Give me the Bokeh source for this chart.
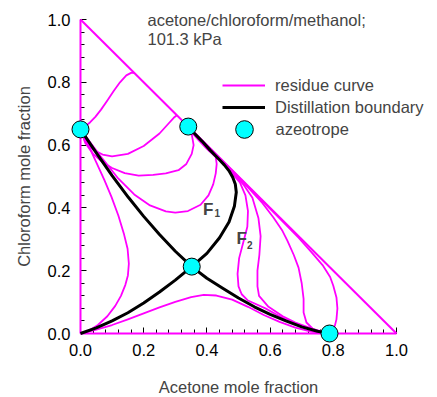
import math

from bokeh.plotting import figure
from bokeh.models import (Range1d, LinearAxis, FixedTicker, PrintfTickFormatter,
                          Label, Legend, LegendItem, ColumnDataSource)
from bokeh.embed import file_html
from bokeh.resources import INLINE

FONT = "Liberation Sans"
MAGENTA = "#ff00ff"
CYAN = "#00ffff"

# ---- composition data (x = acetone mole fraction, y = chloroform mole fraction) ----
# binary edges of the composition triangle (these are residue curves too)
edge_x = [[0.0, 0.0], [0.0, 1.0], [0.0, 1.0]]
edge_y = [[0.0, 1.0], [0.0, 0.0], [1.0, 0.0]]

# residue curves inside the triangle
res_a_x = [0.0, 0.015, 0.03, 0.047, 0.065, 0.085, 0.105, 0.125, 0.145, 0.16, 0.17]
res_a_y = [0.65, 0.66, 0.672, 0.69, 0.713, 0.742, 0.772, 0.80, 0.822, 0.83, 0.83]

res_c_x = [0.0, 0.015, 0.04, 0.07, 0.10, 0.15, 0.20, 0.25, 0.278, 0.295, 0.305]
res_c_y = [0.65, 0.612, 0.585, 0.57, 0.564, 0.572, 0.597, 0.637, 0.668, 0.687, 0.695]

res_d_x = [0.0, 0.015, 0.04, 0.07, 0.10, 0.14, 0.184, 0.23, 0.27, 0.31, 0.335, 0.352, 0.358,
           0.352, 0.341]
res_d_y = [0.65, 0.607, 0.572, 0.545, 0.527, 0.511, 0.503, 0.505, 0.51, 0.52, 0.54, 0.572, 0.60,
           0.635, 0.659]

res_e_x = [0.0, 0.03, 0.07, 0.12, 0.17, 0.22, 0.27, 0.30, 0.34, 0.38, 0.405, 0.42, 0.428, 0.431,
           0.428, 0.40, 0.375, 0.355, 0.341]
res_e_y = [0.65, 0.61, 0.556, 0.493, 0.443, 0.408, 0.389, 0.385, 0.39, 0.41, 0.44, 0.475, 0.51, 0.54,
           0.562, 0.588, 0.614, 0.637, 0.659]

res_f_x = [0.0, 0.025, 0.05, 0.075, 0.098, 0.12, 0.138, 0.149, 0.153, 0.15, 0.142, 0.128, 0.11,
           0.085, 0.055, 0.025, 0.0]
res_f_y = [0.65, 0.60, 0.545, 0.49, 0.435, 0.375, 0.315, 0.27, 0.222, 0.185, 0.155, 0.12, 0.088,
           0.055, 0.027, 0.008, 0.0]

res_g_x = [0.0, 0.05, 0.10, 0.15, 0.20, 0.25, 0.30, 0.35, 0.39, 0.43, 0.48, 0.53, 0.58, 0.63,
           0.68, 0.73, 0.76, 0.788]
res_g_y = [0.0, 0.012, 0.027, 0.045, 0.064, 0.083, 0.101, 0.116, 0.123, 0.121, 0.108, 0.085,
           0.059, 0.037, 0.019, 0.006, 0.002, 0.0]

res_h1_x = [0.341, 0.40, 0.45, 0.48, 0.505, 0.522, 0.53, 0.528, 0.515, 0.502, 0.497, 0.50, 0.51,
            0.53, 0.585, 0.63, 0.671, 0.72, 0.76, 0.788]
res_h1_y = [0.659, 0.597, 0.545, 0.51, 0.48, 0.44, 0.39, 0.34, 0.29, 0.24, 0.19, 0.15, 0.125,
            0.105, 0.08, 0.055, 0.035, 0.016, 0.005, 0.0]

res_h2_x = [0.341, 0.40, 0.45, 0.48, 0.515, 0.544, 0.563, 0.57, 0.566, 0.56, 0.56, 0.565, 0.595,
            0.64, 0.68, 0.737, 0.788]
res_h2_y = [0.659, 0.597, 0.547, 0.515, 0.475, 0.432, 0.368, 0.31, 0.25, 0.20, 0.15, 0.12, 0.085,
            0.055, 0.035, 0.014, 0.0]

res_h3_x = [0.341, 0.40, 0.45, 0.49, 0.53, 0.576, 0.61, 0.639, 0.655, 0.675, 0.69, 0.70, 0.706,
            0.706, 0.715, 0.734, 0.76, 0.788]
res_h3_y = [0.659, 0.598, 0.548, 0.508, 0.465, 0.415, 0.37, 0.327, 0.295, 0.25, 0.21, 0.16, 0.11,
            0.067, 0.035, 0.016, 0.004, 0.0]

res_h4_x = [0.341, 0.45, 0.55, 0.627, 0.69, 0.73, 0.766, 0.79, 0.80, 0.81, 0.813, 0.81, 0.805,
            0.795, 0.788]
res_h4_y = [0.659, 0.549, 0.448, 0.37, 0.305, 0.26, 0.218, 0.18, 0.152, 0.115, 0.08, 0.045, 0.025,
            0.008, 0.0]

# distillation boundaries
bd1_x = [0.0, 0.05, 0.10, 0.152, 0.20, 0.25, 0.30, 0.352, 0.40, 0.45, 0.50, 0.55, 0.60, 0.65,
         0.70, 0.75, 0.788]
bd1_y = [0.65, 0.575, 0.503, 0.433, 0.373, 0.315, 0.262, 0.213, 0.176, 0.144, 0.113, 0.085, 0.061,
         0.04, 0.021, 0.007, 0.0]

bd2_x = [0.0, 0.05, 0.10, 0.15, 0.20, 0.25, 0.30, 0.352, 0.40, 0.44, 0.47, 0.487, 0.493, 0.49,
         0.482, 0.47, 0.455, 0.435, 0.41, 0.385, 0.36, 0.341]
bd2_y = [0.0, 0.018, 0.04, 0.066, 0.097, 0.132, 0.17, 0.213, 0.255, 0.305, 0.355, 0.405, 0.45, 0.475,
         0.497, 0.518, 0.537, 0.558, 0.584, 0.612, 0.638, 0.659]

# azeotropes
az_x = [0.0, 0.341, 0.352, 0.788]
az_y = [0.65, 0.659, 0.213, 0.0]

major_ticks = [0.0, 0.2, 0.4, 0.6, 0.8, 1.0]
minor_ticks = [round(0.04 * i, 2) for i in range(26)]

# ---- figure: the frame spans the whole canvas, axes sit at the data origin ----
p = figure(width=437, height=397, output_backend="svg", toolbar_location=None,
           x_range=Range1d(-0.25316, 1.12975), y_range=Range1d(-0.20382, 1.06051),
           x_axis_type=None, y_axis_type=None,
           min_border_left=0, min_border_right=0, min_border_top=0, min_border_bottom=0)
p.outline_line_color = None
p.background_fill_color = "white"
p.border_fill_color = "white"


def style_axis(ax):
    ax.ticker = FixedTicker(ticks=major_ticks, minor_ticks=minor_ticks)
    ax.formatter = PrintfTickFormatter(format="%.1f")
    ax.axis_line_color = "black"
    ax.axis_line_width = 1
    ax.major_tick_in = 6
    ax.major_tick_out = 0
    ax.minor_tick_in = 4
    ax.minor_tick_out = 0
    ax.major_tick_line_color = "black"
    ax.minor_tick_line_color = "black"
    ax.major_label_text_font = FONT
    ax.major_label_text_font_size = "16.5px"
    ax.major_label_text_color = "black"
    ax.major_label_standoff = 10
    ax.level = "underlay"


xaxis = LinearAxis(fixed_location=0, bounds=(0, 1))
style_axis(xaxis)
p.add_layout(xaxis, "below")
yaxis = LinearAxis(fixed_location=0, bounds=(0, 1))
style_axis(yaxis)
p.add_layout(yaxis, "left")

# triangle edges
p.multi_line(xs=edge_x, ys=edge_y, line_color=MAGENTA, line_width=2)

res_src = ColumnDataSource(dict(
    xs=[res_a_x, res_c_x, res_d_x, res_e_x, res_f_x, res_g_x,
        res_h1_x, res_h2_x, res_h3_x, res_h4_x],
    ys=[res_a_y, res_c_y, res_d_y, res_e_y, res_f_y, res_g_y,
        res_h1_y, res_h2_y, res_h3_y, res_h4_y],
))
r_res = p.multi_line(xs="xs", ys="ys", source=res_src, line_color=MAGENTA, line_width=1.8,
                     line_join="round")

bd_src = ColumnDataSource(dict(xs=[bd1_x, bd2_x], ys=[bd1_y, bd2_y]))
r_bd = p.multi_line(xs="xs", ys="ys", source=bd_src, line_color="black", line_width=3,
                    line_join="round")

r_az = p.scatter(az_x, az_y, marker="circle", size=17, fill_color=CYAN,
                 line_color="black", line_width=1)

# region labels F1 / F2
for fx, fy, sx, sy, sub in [(0.388, 0.394, 0.424, 0.383, "1"), (0.494, 0.302, 0.527, 0.283, "2")]:
    p.add_layout(Label(x=fx, y=fy, text="F", text_font=FONT, text_font_size="17px",
                       text_font_style="bold", text_baseline="alphabetic", text_align="left"))
    p.add_layout(Label(x=sx, y=sy, text=sub, text_font=FONT, text_font_size="10px",
                       text_font_style="bold", text_baseline="alphabetic", text_align="left"))

# system note
p.add_layout(Label(x=0.212, y=0.997, text="acetone/chloroform/methanol;", text_font=FONT,
                   text_font_size="16.5px", text_baseline="alphabetic"))
p.add_layout(Label(x=0.212, y=0.9385, text="101.3 kPa", text_font=FONT,
                   text_font_size="16.5px", text_baseline="alphabetic"))

# axis titles
p.add_layout(Label(x=0.5, y=-0.169, text="Acetone mole fraction", text_font=FONT,
                   text_font_size="16.5px", text_align="center", text_baseline="middle"))
p.add_layout(Label(x=-0.179, y=0.5, text="Chloroform mole fraction", text_font=FONT,
                   text_font_size="16.5px", text_align="center", text_baseline="middle",
                   angle=math.pi / 2))

# legends
leg_lines = Legend(items=[LegendItem(label="residue curve", renderers=[r_res]),
                          LegendItem(label="Distillation boundary", renderers=[r_bd])],
                   location=(222, 280), glyph_width=43, glyph_height=20, label_height=20,
                   spacing=2, label_standoff=10, padding=0, margin=0,
                   border_line_alpha=0, background_fill_alpha=0,
                   label_text_font=FONT, label_text_font_size="16.5px")
leg_az = Legend(items=[LegendItem(label="azeotrope", renderers=[r_az])],
                location=(221.5, 245.7), glyph_width=44, glyph_height=44, label_height=20,
                label_standoff=10, padding=0, margin=0,
                border_line_alpha=0, background_fill_alpha=0,
                label_text_font=FONT, label_text_font_size="16.5px")
p.add_layout(leg_lines)
p.add_layout(leg_az)

open("out.html", "w").write(file_html(p, INLINE))
